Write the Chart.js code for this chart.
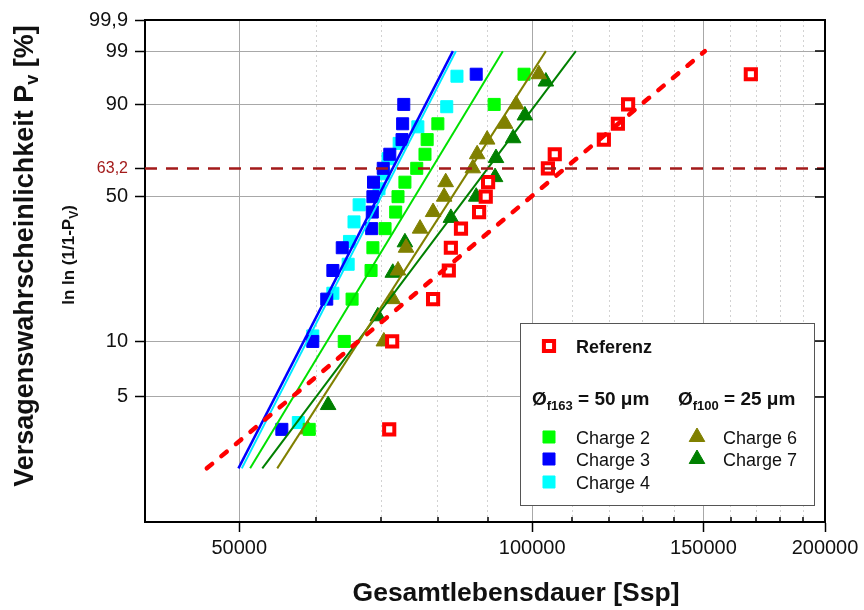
<!DOCTYPE html>
<html>
<head>
<meta charset="utf-8">
<script src="https://cdn.jsdelivr.net/npm/chart.js@4/dist/chart.umd.min.js"></script>
<style>
  html, body { margin: 0; padding: 0; background: #fff; }
</style>
</head>
<body>
<canvas id="myChart" width="864" height="610"></canvas>
<script>
// failure probabilities (median ranks, %) per sample size
const ranks15 = [3.3, 10, 16.7, 23.3, 30, 36.7, 43.3, 50, 56.7, 63.3, 70, 76.7, 83.3, 90, 96.7]
const ranks14 = [3.6, 10.7, 17.9, 25, 32.1, 39.3, 46.4, 53.6, 60.7, 67.9, 75, 82.1, 89.3, 96.4]
const ranks11 = [4.5, 13.6, 22.7, 31.8, 40.9, 50, 59.1, 68.2, 77.3, 86.4, 95.5]

// lifetimes [Ssp]
const referenz = [71300, 71800, 79100, 82100, 82500, 84500, 88200, 89600, 90100, 103800, 105500, 118500, 122500, 125500, 167800]
const charge2 = [59000, 64100, 65300, 68300, 68600, 70600, 72400, 72800, 74000, 76100, 77600, 78000, 80000, 91400, 98100]
const charge3 = [55300, 59500, 61500, 62400, 63800, 68400, 68500, 68600, 68700, 70300, 71400, 73500, 73600, 73800, 87600]
const charge4 = [57500, 59500, 62400, 64700, 64900, 65600, 66400, 69600, 70400, 71100, 73000, 76300, 81700, 83700]
const charge6 = [58800, 70400, 71900, 72800, 74200, 76700, 79100, 81200, 81500, 86900, 87800, 89900, 93800, 96300, 101600]
const charge7 = [61700, 69400, 71900, 74000, 82500, 87600, 91600, 91800, 95600, 98300, 103300]

// Weibull fit lines: lifetime at P = 2 % and P = 99 %
const fitP = [2, 99]
const fitReferenz = [46300, 150500]
const fitCharge2 = [51300, 93300]
const fitCharge3 = [49900, 82900]
const fitCharge4 = [50300, 83500]
const fitCharge6 = [54700, 103300]
const fitCharge7 = [52800, 110900]

const charLine = 63.2
const xRange = [40000, 200000]

// axes
const yTickP = [5, 10, 50, 63.2, 90, 99, 99.9]
const yTickLabels = ['5', '10', '50', '63,2', '90', '99', '99,9']
const yGridP = [5, 10, 50, 90, 99]
const xGridValues = [50000, 60000, 70000, 80000, 90000, 100000, 110000, 120000, 130000, 140000, 150000, 160000, 170000, 180000, 190000, 200000]
const xTickLabels = [50000, 100000, 150000, 200000]
const xMajorGrid = [50000, 100000, 150000]

const FONT = '"Liberation Sans", Arial, sans-serif'

function weib(p) {
    return Math.log(-Math.log(1 - p / 100))
}
function pts(xs, ps) {
    return xs.map((x, i) => ({ x: x, y: weib(ps[i]) }))
}
function isP(value, p) {
    return Math.abs(value - weib(p)) < 1e-9
}

function scatterSet(label, xs, ps, color, style, extra) {
    return Object.assign({
        label: label,
        data: pts(xs, ps),
        pointStyle: style,
        pointRadius: style === 'triangle' ? 9 : 8.5,
        backgroundColor: color,
        borderColor: color,
        borderWidth: 1,
        showLine: false,
        order: 2,
    }, extra || {})
}
function fitSet(xs, color, width, dash) {
    return {
        label: '',
        data: pts(xs, fitP),
        showLine: true,
        pointRadius: 0,
        borderColor: color,
        borderWidth: width,
        borderDash: dash || [],
        borderCapStyle: dash ? 'round' : 'butt',
        fill: false,
        order: 1,
    }
}

function drawMarker(ctx, ds, x, y) {
    const r = ds.pointRadius
    ctx.beginPath()
    if (ds.pointStyle === 'triangle') {
        ctx.moveTo(x, y - r)
        ctx.lineTo(x + r * 0.866, y + r / 2)
        ctx.lineTo(x - r * 0.866, y + r / 2)
        ctx.closePath()
    } else {
        const s = r * Math.SQRT1_2
        ctx.rect(x - s, y - s, 2 * s, 2 * s)
    }
    ctx.fillStyle = ds.backgroundColor
    ctx.fill()
    ctx.lineWidth = ds.borderWidth
    ctx.strokeStyle = ds.borderColor
    ctx.stroke()
}

function richWidth(ctx, parts) {
    let w = 0
    parts.forEach(p => { ctx.font = p.font; w += ctx.measureText(p.t).width })
    return w
}
function drawRich(ctx, parts, x, y) {
    parts.forEach(p => {
        ctx.font = p.font
        ctx.fillText(p.t, x, y + (p.dy || 0))
        x += ctx.measureText(p.t).width
    })
}

const framePlugin = {
    id: 'frame',
    afterDatasetsDraw(chart) {
        const { ctx, chartArea: a, scales } = chart
        ctx.save()
        ctx.strokeStyle = '#000'
        ctx.lineWidth = 2
        ctx.beginPath()
        ctx.moveTo(a.left, a.top)
        ctx.lineTo(a.right, a.top)
        ctx.lineTo(a.right, a.bottom)
        ctx.stroke()
        ctx.lineWidth = 1.5
        ctx.beginPath()
        yTickP.slice(0, -1).forEach(p => {
            const py = Math.round(scales.y.getPixelForValue(weib(p)))
            ctx.moveTo(a.right, py)
            ctx.lineTo(a.right - 10, py)
        })
        xGridValues.forEach(v => {
            if (xTickLabels.includes(v)) return
            const px = Math.round(scales.x.getPixelForValue(v))
            ctx.moveTo(px, a.bottom)
            ctx.lineTo(px, a.bottom - 5)
        })
        ctx.stroke()
        ctx.restore()
    },
    afterDraw(chart) {
        const ctx = chart.ctx
        const byLabel = {}
        chart.data.datasets.forEach(d => { if (d.label) byLabel[d.label] = d })

        ctx.save()
        // legend box
        ctx.fillStyle = '#fff'
        ctx.fillRect(520, 323, 294, 182)
        ctx.strokeStyle = '#555'
        ctx.lineWidth = 1
        ctx.strokeRect(520.5, 323.5, 294, 182)

        ctx.textBaseline = 'alphabetic'
        ctx.fillStyle = '#111'
        const items = [
            ['Referenz', 549, 346, 576, 'bold'],
            ['Charge 2', 549, 437, 576, ''],
            ['Charge 3', 549, 459, 576, ''],
            ['Charge 4', 549, 482, 576, ''],
            ['Charge 6', 697, 437, 723, ''],
            ['Charge 7', 697, 459, 723, ''],
        ]
        items.forEach(([lab, mx, my, tx, w]) => {
            drawMarker(ctx, byLabel[lab], mx, my)
            ctx.fillStyle = '#111'
            ctx.font = (w ? 'bold ' : '') + '18px ' + FONT
            ctx.fillText(lab, tx, my + 6.5)
        })
        const big = 'bold 19px ' + FONT
        const sub = 'bold 13px ' + FONT
        drawRich(ctx, [{ t: '\u00D8', font: big }, { t: 'f163', font: sub, dy: 5 }, { t: ' = 50 \u03BCm', font: big }], 532, 405)
        drawRich(ctx, [{ t: '\u00D8', font: big }, { t: 'f100', font: sub, dy: 5 }, { t: ' = 25 \u03BCm', font: big }], 678, 405)

        // axis titles
        ctx.fillStyle = '#111'
        ctx.textAlign = 'left'
        const xt = [{ t: 'Gesamtlebensdauer [Ssp]', font: 'bold 26.5px ' + FONT }]
        drawRich(ctx, xt, 516 - richWidth(ctx, xt) / 2, 601)

        ctx.save()
        ctx.translate(24, 256)
        ctx.rotate(-Math.PI / 2)
        const yt = [
            { t: 'Versagenswahrscheinlichkeit P', font: 'bold 27px ' + FONT },
            { t: 'v', font: 'bold 18px ' + FONT, dy: 5 },
            { t: ' [%]', font: 'bold 27px ' + FONT },
        ]
        drawRich(ctx, yt, -richWidth(ctx, yt) / 2, 9)
        ctx.restore()

        ctx.save()
        ctx.translate(68, 255)
        ctx.rotate(-Math.PI / 2)
        const yt2 = [
            { t: 'ln ln (1/1-P', font: 'bold 17px ' + FONT },
            { t: 'V', font: 'bold 12px ' + FONT, dy: 4 },
            { t: ')', font: 'bold 17px ' + FONT },
        ]
        drawRich(ctx, yt2, -richWidth(ctx, yt2) / 2, 6)
        ctx.restore()
        ctx.restore()
    },
}

function render_chart() {
    const data = {
        datasets: [
            {
                label: '',
                data: [{ x: xRange[0], y: weib(charLine) }, { x: xRange[1], y: weib(charLine) }],
                showLine: true,
                pointRadius: 0,
                borderColor: '#a31a1a',
                borderWidth: 2.5,
                borderDash: [12, 9],
                order: 0,
            },
            fitSet(fitReferenz, '#ff0000', 4.5, [7, 12]),
            fitSet(fitCharge3, '#0000ff', 2.5),
            fitSet(fitCharge4, '#00e8ff', 2),
            fitSet(fitCharge2, '#00e000', 2),
            fitSet(fitCharge6, '#808000', 2),
            fitSet(fitCharge7, '#008000', 2),
            scatterSet('Referenz', referenz, ranks15, '#ff0000', 'rect', { backgroundColor: '#fff', pointRadius: 7.2, borderWidth: 4 }),
            scatterSet('Charge 2', charge2, ranks15, '#00ff00', 'rect'),
            scatterSet('Charge 3', charge3, ranks15, '#0000ff', 'rect'),
            scatterSet('Charge 4', charge4, ranks14, '#00ffff', 'rect'),
            scatterSet('Charge 6', charge6, ranks15, '#808000', 'triangle'),
            scatterSet('Charge 7', charge7, ranks11, '#008000', 'triangle'),
        ],
    }

    const config = {
        type: 'scatter',
        data: data,
        options: {
            responsive: false,
            animation: false,
            events: [],
            layout: { padding: { top: 20, right: 39, left: 0, bottom: 0 } },
            plugins: { legend: { display: false }, tooltip: { enabled: false } },
            scales: {
                x: {
                    type: 'logarithmic',
                    min: xRange[0],
                    max: xRange[1],
                    afterBuildTicks: s => { s.ticks = xGridValues.map(v => ({ value: v })) },
                    afterFit: s => { s.height = 88 },
                    ticks: {
                        autoSkip: false,
                        maxRotation: 0,
                        padding: 4,
                        color: '#111',
                        font: { family: FONT, size: 20 },
                        callback: v => xTickLabels.includes(v) ? String(v) : '',
                    },
                    grid: {
                        color: c => {
                            if (!c.tick) return 'rgba(0,0,0,0)'
                            if (xMajorGrid.includes(c.tick.value)) return '#a8a8a8'
                            if (c.tick.value >= xRange[1]) return 'rgba(0,0,0,0)'
                            return '#d2d2d2'
                        },
                        lineWidth: 1,
                        tickLength: 10,
                        tickWidth: 1.5,
                        tickColor: c => c.tick && xTickLabels.includes(c.tick.value) ? '#000' : 'rgba(0,0,0,0)',
                    },
                    border: {
                        color: '#000',
                        width: 2,
                        dash: c => c.tick && !xMajorGrid.includes(c.tick.value) ? [2, 3] : [],
                    },
                },
                y: {
                    type: 'linear',
                    min: weib(1),
                    max: weib(99.9),
                    afterBuildTicks: s => { s.ticks = yTickP.map(p => ({ value: weib(p) })) },
                    afterFit: s => { s.width = 145 },
                    ticks: {
                        autoSkip: false,
                        padding: 7,
                        callback: (v, i) => yTickLabels[i],
                        color: c => c.tick && isP(c.tick.value, charLine) ? '#a31a1a' : '#111',
                        font: c => c.tick && isP(c.tick.value, charLine) ? { family: FONT, size: 16 } : { family: FONT, size: 20 },
                    },
                    grid: {
                        color: c => c.tick && yGridP.some(p => isP(c.tick.value, p)) ? '#a8a8a8' : 'rgba(0,0,0,0)',
                        lineWidth: 1,
                        tickLength: 10,
                        tickWidth: 1.5,
                        tickColor: '#000',
                    },
                    border: { color: '#000', width: 2 },
                },
            },
        },
        plugins: [framePlugin],
    }

    const myChart = new Chart(document.getElementById('myChart'), config)
}

document.addEventListener('DOMContentLoaded', render_chart)
</script>
</body>
</html>
